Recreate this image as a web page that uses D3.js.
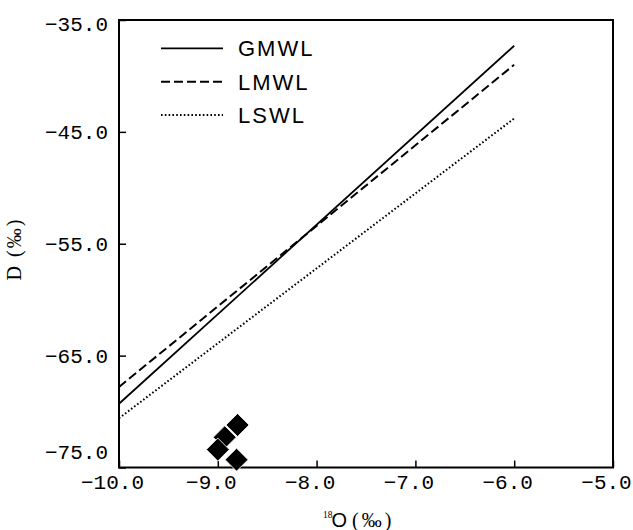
<!DOCTYPE html>
<html>
<head>
<meta charset="utf-8">
<script src="https://cdn.jsdelivr.net/npm/d3@7"></script>
<style>
  html, body { margin: 0; padding: 0; background: #fff; }
  svg { display: block; }
</style>
</head>
<body>
<svg id="chart" width="633" height="530"></svg>
<script>
// Water lines: endpoints in δ18O / δD space
const seriesNames = ["GMWL", "LMWL", "LSWL"];
const lineX = [-10, -6];
const gmwlY = [-69.3, -37.3];
const lmwlY = [-67.8, -39.0];
const lswlY = [-70.6, -43.8];

// Sample points
const sampleX = [-8.80, -8.93, -9.00, -8.81];
const sampleY = [-71.2, -72.3, -73.4, -74.3];

// Axis ticks
const xTicks = [-10, -9, -8, -7, -6, -5];
const yTicks = [-75, -65, -55, -45, -35];

const svg = d3.select("#chart");
const plotL = 119, plotR = 613, plotT = 20, plotB = 467.5;

const x = d3.scaleLinear().domain([-10, -5]).range([plotL, plotR]);
const y = d3.scaleLinear().domain([-75, -35]).range([plotB, plotT]);
const fmt = d3.format(".1f");

const tickFont = "'Liberation Mono', 'DejaVu Sans Mono', monospace";

// Bottom axis, ticks pointing inward
const gx = svg.append("g")
  .attr("transform", `translate(0,${plotB})`)
  .call(d3.axisBottom(x).tickValues(xTicks).tickSizeInner(-7).tickSizeOuter(0).tickPadding(0).tickFormat(fmt));
gx.select(".domain").remove();
gx.selectAll(".tick line").attr("stroke", "#000").attr("stroke-width", 1.5);
gx.selectAll(".tick text")
  .attr("font-family", tickFont).attr("font-size", 21)
  .attr("fill", "#000")
  .attr("dy", null).attr("y", 21)
  .attr("dx", -7);

// Left axis, ticks pointing inward
const gy = svg.append("g")
  .attr("transform", `translate(${plotL},0)`)
  .call(d3.axisLeft(y).tickValues(yTicks).tickSizeInner(-7).tickSizeOuter(0).tickPadding(0).tickFormat(fmt));
gy.select(".domain").remove();
gy.selectAll(".tick line").attr("stroke", "#000").attr("stroke-width", 1.5);
gy.selectAll(".tick text")
  .attr("font-family", tickFont).attr("font-size", 21)
  .attr("fill", "#000")
  .attr("x", -11)
  .attr("dy", d => d === -75 ? "-0.42em" : d === -35 ? "0.48em" : "0.33em");

// Frame
svg.append("rect")
  .attr("x", plotL).attr("y", plotT)
  .attr("width", plotR - plotL).attr("height", plotB - plotT)
  .attr("fill", "none").attr("stroke", "#000").attr("stroke-width", 2);

// Lines
const dashes = { GMWL: null, LMWL: "9,4", LSWL: "1.6,2.2" };
const widths = { GMWL: 1.8, LMWL: 2, LSWL: 2 };
const seriesY = { GMWL: gmwlY, LMWL: lmwlY, LSWL: lswlY };
const line = d3.line().x(d => x(d[0])).y(d => y(d[1]));

seriesNames.forEach(name => {
  const pts = lineX.map((v, i) => [v, seriesY[name][i]]);
  svg.append("path")
    .attr("d", line(pts))
    .attr("fill", "none")
    .attr("stroke", "#000")
    .attr("stroke-width", widths[name])
    .attr("stroke-dasharray", dashes[name]);
});

// Sample diamonds
const diamond = d3.symbol().type(d3.symbolSquare).size(265);
svg.append("g").selectAll("path")
  .data(sampleX.map((v, i) => [v, sampleY[i]]))
  .join("path")
  .attr("d", diamond)
  .attr("transform", d => `translate(${x(d[0])},${y(d[1])}) rotate(45)`)
  .attr("fill", "#000")
  .attr("stroke", "#fff")
  .attr("stroke-width", 0.8);

// Legend
const legend = svg.append("g");
seriesNames.forEach((name, i) => {
  const ly = 48.3 + i * 33.4;
  legend.append("line")
    .attr("x1", 161).attr("x2", 223)
    .attr("y1", ly).attr("y2", ly)
    .attr("stroke", "#000")
    .attr("stroke-width", widths[name])
    .attr("stroke-dasharray", dashes[name]);
  legend.append("text")
    .attr("x", 238).attr("y", ly + 7.8)
    .attr("font-family", "'Liberation Sans', Arial, sans-serif")
    .attr("font-size", 22)
    .attr("letter-spacing", 2)
    .text(name);
});

// Axis titles
svg.append("text")
  .attr("transform", "translate(21,249) rotate(-90)")
  .attr("text-anchor", "middle")
  .attr("font-family", "'Liberation Serif', 'Times New Roman', serif")
  .attr("font-size", 20)
  .attr("letter-spacing", 2)
  .text("D (‰)");

const xt = svg.append("g");
xt.append("text")
  .attr("x", 323).attr("y", 518)
  .attr("font-family", "'Liberation Serif', 'Times New Roman', serif")
  .attr("font-size", 9.5)
  .text("18");
xt.append("text")
  .attr("x", 331.5).attr("y", 526.5)
  .attr("font-family", "'Liberation Sans', Arial, sans-serif")
  .attr("font-size", 20)
  .text("O");
xt.append("text")
  .attr("x", 352).attr("y", 526.5)
  .attr("font-family", "'Liberation Serif', 'Times New Roman', serif")
  .attr("font-size", 20)
  .attr("letter-spacing", 3)
  .text("(‰)");
</script>
</body>
</html>
